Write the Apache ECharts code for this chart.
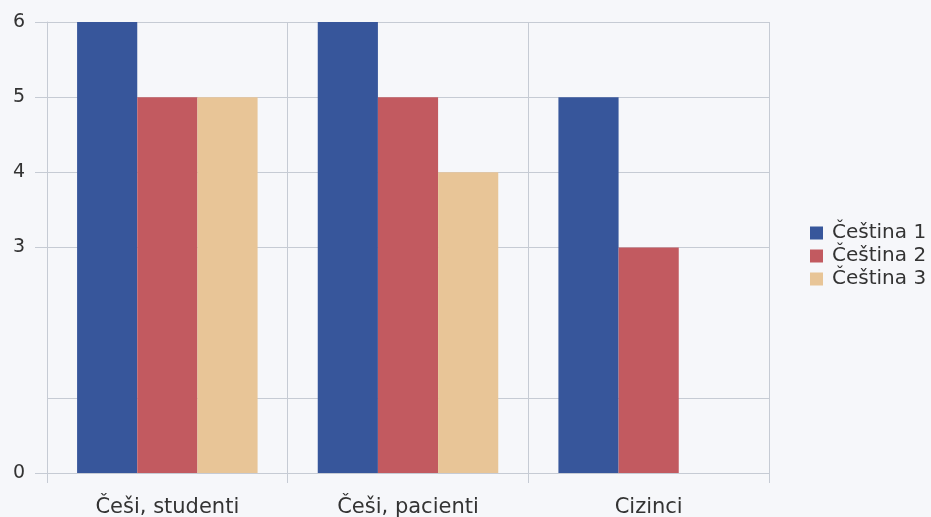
<!DOCTYPE html>
<html>
<head>
<meta charset="utf-8">
<script src="https://cdn.jsdelivr.net/npm/echarts@6/dist/echarts.min.js"></script>
<style>
  html, body { margin: 0; padding: 0; background: #f6f7fa; }
  #chart { width: 931px; height: 517px; }
</style>
</head>
<body>
<div id="chart"></div>
<script>
// Survey groups and scores per Czech test variant
const categories = ['Češi, studenti', 'Češi, pacienti', 'Cizinci'];
const cestina1 = [6, 6, 5];
const cestina2 = [5, 5, 3];
const cestina3 = [5, 4, null];
const seriesNames = ['Čeština 1', 'Čeština 2', 'Čeština 3'];
const yLabelValues = [0, 3, 4, 5, 6];

const colors = ['#37569b', '#c25a60', '#e8c597'];
const gridColor = '#c6cbd4';
const font = 'DejaVu Sans';

// One colour per horizontal gridline (0..6); the line at 2 is left out
const splitColors = [gridColor, gridColor, 'rgba(0,0,0,0)', gridColor, gridColor, gridColor, gridColor];

const chart = echarts.init(document.getElementById('chart'));
chart.setOption({
  backgroundColor: '#f6f7fa',
  animation: false,
  grid: { left: 47, right: 162, top: 22, bottom: 44, containLabel: false, outerBoundsMode: 'none' },
  legend: {
    orient: 'vertical',
    left: 805,
    top: 218,
    itemWidth: 13,
    itemHeight: 13,
    itemGap: 3,
    icon: 'rect',
    textStyle: { fontFamily: font, fontSize: 20, color: '#333', padding: [0, 0, 0, 4] },
    data: seriesNames
  },
  xAxis: {
    type: 'category',
    data: categories,
    axisLine: { lineStyle: { color: gridColor, width: 1 } },
    axisTick: { show: true, length: 10, lineStyle: { color: gridColor } },
    splitLine: { show: true, lineStyle: { color: gridColor, width: 1 } },
    axisLabel: { fontFamily: font, fontSize: 21, color: '#333', margin: 24 }
  },
  yAxis: [
    {
      // labelled axis: ticks and numbers only at the listed values
      type: 'value',
      min: 0,
      max: 6,
      interval: 1,
      axisLine: { show: true, lineStyle: { color: gridColor, width: 1 } },
      axisTick: { show: true, length: 12, customValues: yLabelValues, lineStyle: { color: gridColor } },
      splitLine: { show: false },
      axisLabel: { fontFamily: font, fontSize: 19, color: '#333', margin: 22, customValues: yLabelValues }
    },
    {
      // gridlines only
      type: 'value',
      position: 'left',
      min: 0,
      max: 6,
      interval: 1,
      axisLine: { show: false },
      axisTick: { show: false },
      axisLabel: { show: false },
      splitLine: { show: true, lineStyle: { color: splitColors, width: 1 } }
    }
  ],
  series: [
    { name: seriesNames[0], type: 'bar', data: cestina1, itemStyle: { color: colors[0] }, barGap: '0%', barCategoryGap: '25%' },
    { name: seriesNames[1], type: 'bar', data: cestina2, itemStyle: { color: colors[1] } },
    { name: seriesNames[2], type: 'bar', data: cestina3, itemStyle: { color: colors[2] } }
  ]
});
</script>
</body>
</html>
